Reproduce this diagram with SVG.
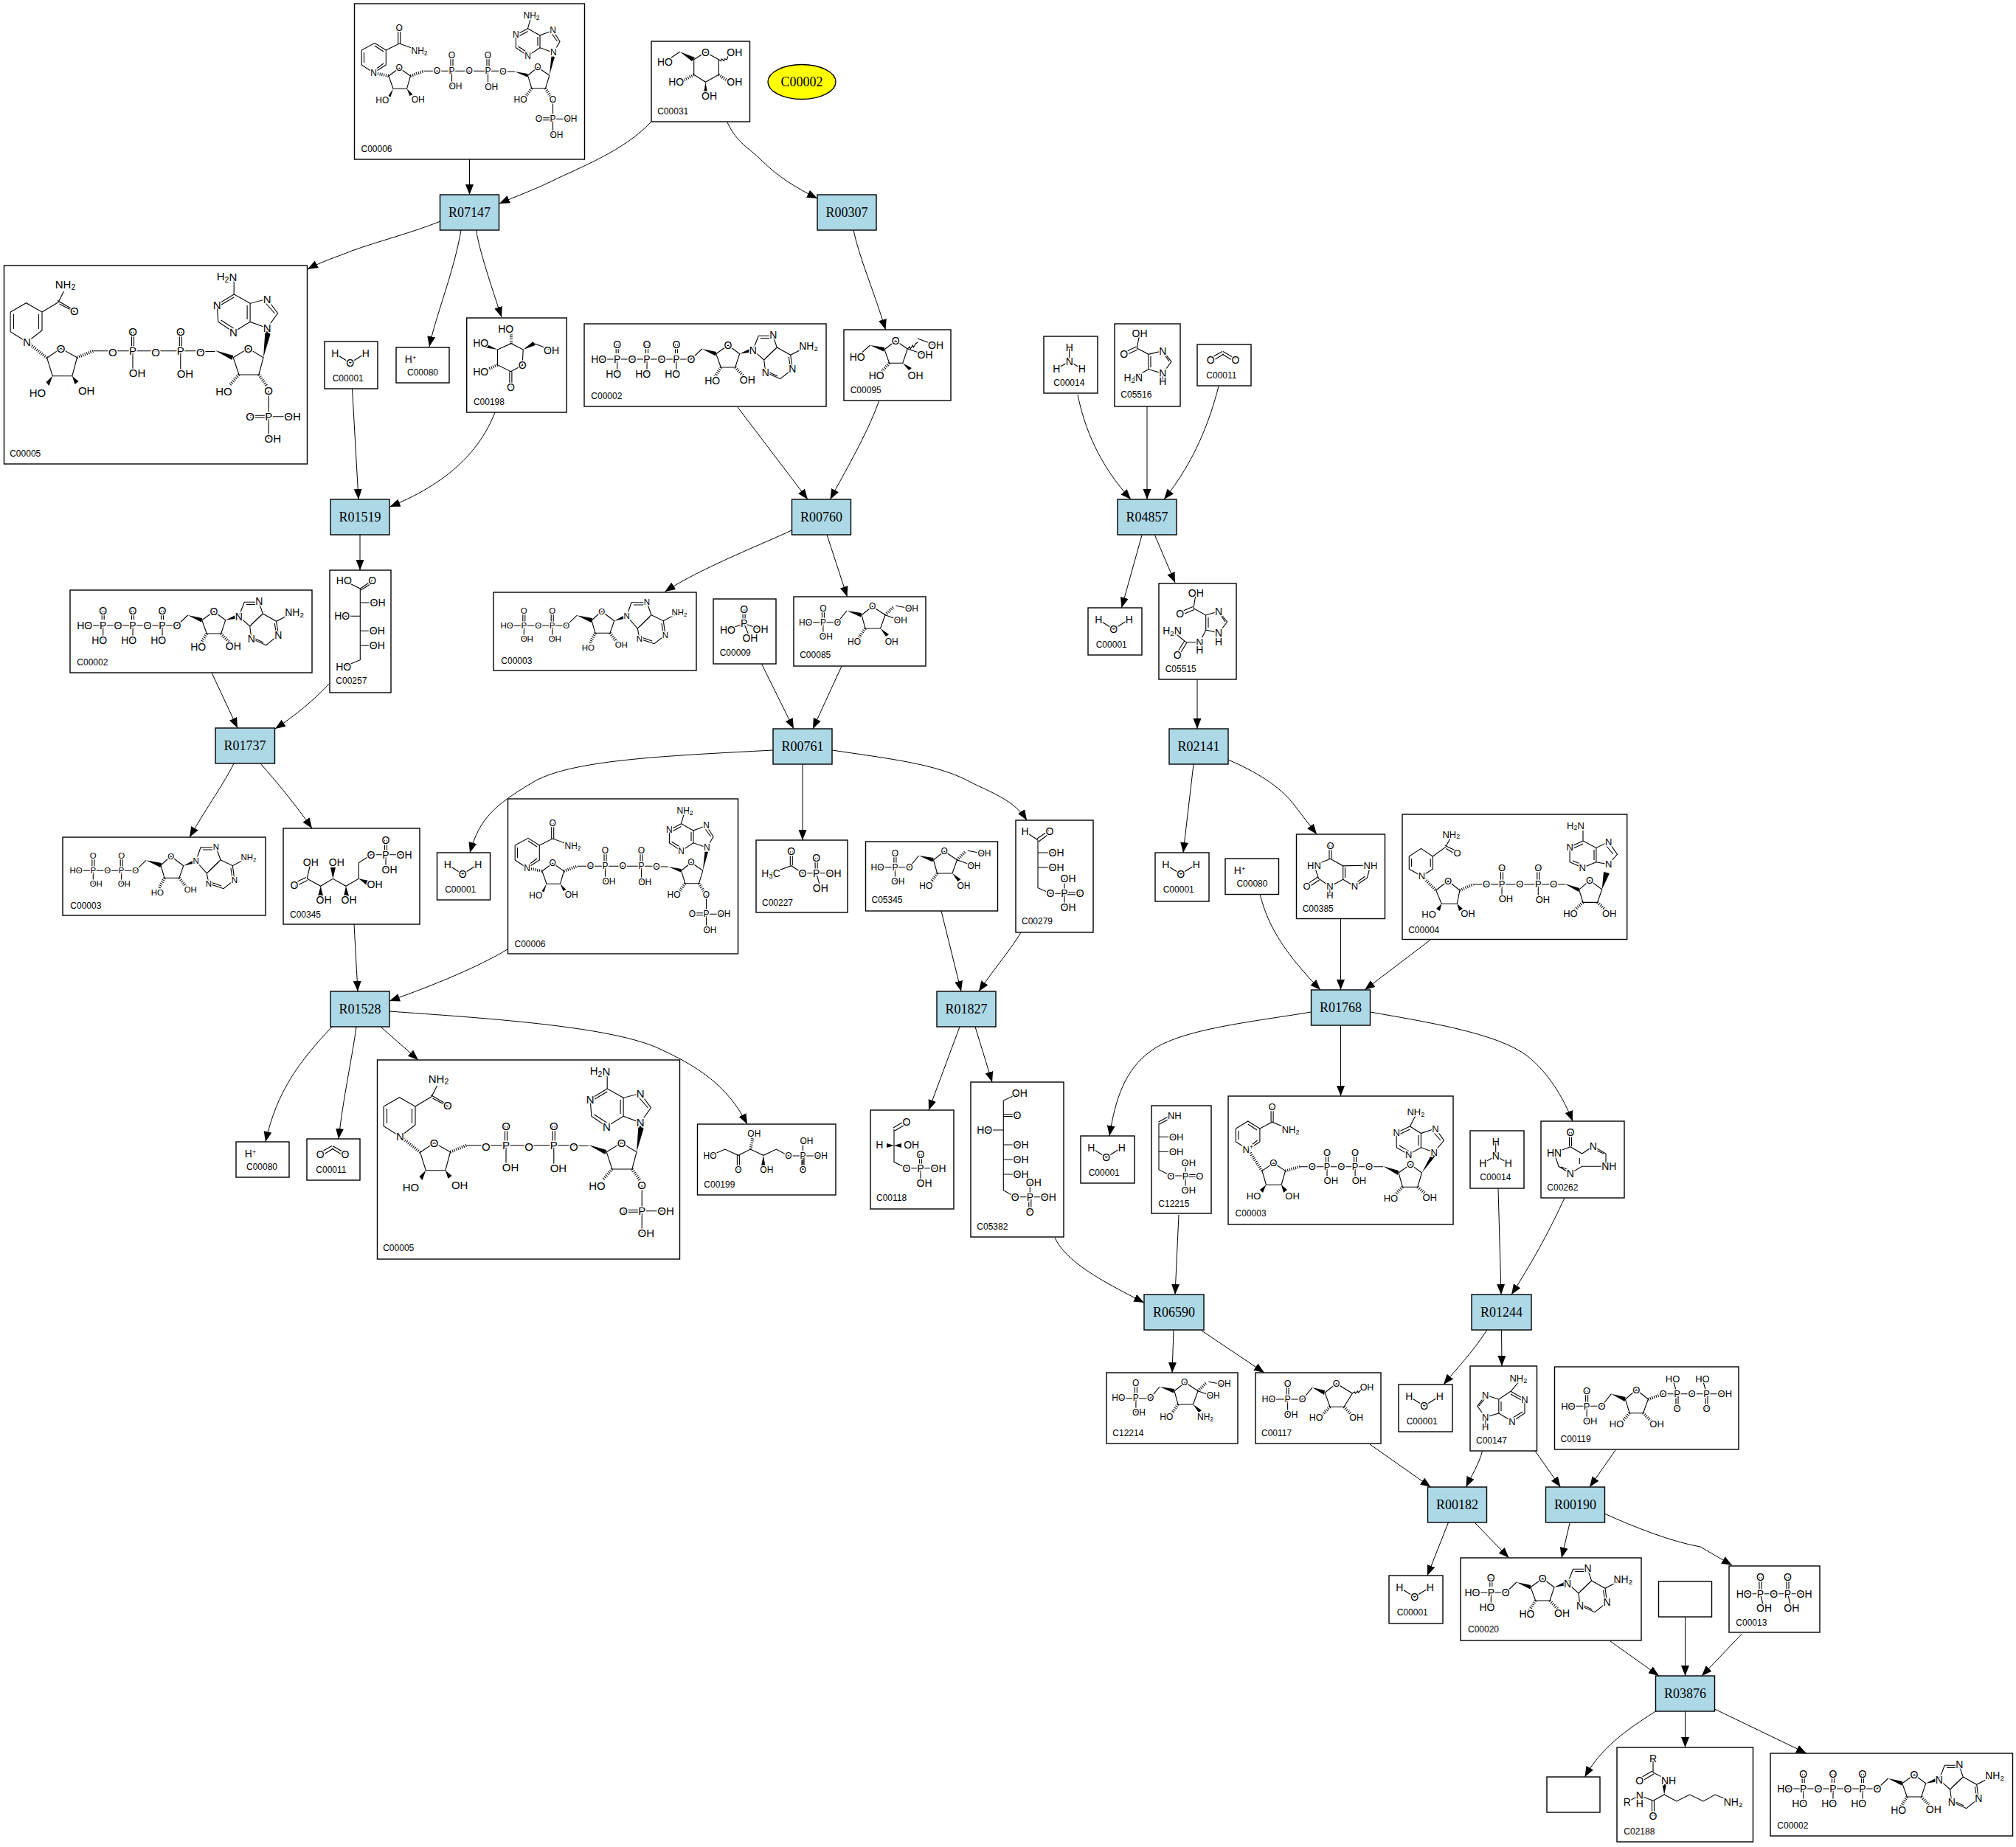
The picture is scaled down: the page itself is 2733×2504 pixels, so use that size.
<svg xmlns="http://www.w3.org/2000/svg" width="2733" height="2504" viewBox="0 0 2733 2504">
<style>
rect.c{fill:#fff;stroke:#000;stroke-width:1.4}
rect.r{fill:#add8e6;stroke:#000;stroke-width:1.4}
ellipse.y{fill:#ff0;stroke:#000;stroke-width:1.4}
.rt{font-family:"Liberation Serif","Times New Roman",serif;font-size:18px;text-anchor:middle;dominant-baseline:central;fill:#000}
.e path{fill:none;stroke:#000;stroke-width:1;marker-end:url(#arr)}
.b{fill:none;stroke:#000;stroke-width:1.1}
.w{fill:#000}
.h{fill:none;stroke:#000;stroke-width:4;stroke-dasharray:1 1.8}
.m text{font-family:"Liberation Sans",Arial,sans-serif;text-anchor:middle;dominant-baseline:central;paint-order:stroke;stroke:#fff;stroke-width:3px;fill:#000}
.m text.l{text-anchor:start;stroke:none;font-size:12px}
.s{font-size:70%}
</style>
<defs>
<marker id="arr" markerUnits="userSpaceOnUse" markerWidth="15" markerHeight="12" refX="14" refY="5.5" orient="auto"><path d="M0,0L14,5.5L0,11Z" fill="#000"/></marker>
<g id="b-atp"><path class="b" d="M19.7,48H145L159.7,34M43.2,28V40M46.2,28V40M83.5,28V40M86.5,28V40M123.5,28V40M126.5,28V40M44.7,48V67M85,48V67M125,48V67M178.7,40.7L195,29L210.7,40.7L204.7,59H185.3ZM228.7,35.7L236.3,16.3H256L261.3,32L243.7,49L228.7,35.7M239,19.5H252M259,34L246,46.5M261.3,32L279.7,42.3L304,29.7M279.7,42.3L282.3,61.3L265.7,74.7L245.7,65.7L243.7,49M277.3,45L279.3,58M262,71L249,65"/><polygon class="w" points="159.7,34 179,38 178,43.5"/><polygon class="w" points="210.7,40.7 228,32 229,38"/><path class="h" d="M185.3,59L175,75M204.7,59L218,73"/></g>
<g id="b-adp"><path class="b" d="M18,45.3H98.7L113,31.3M39.8,25.3V45M42.8,25.3V45M78.2,25.3V45M81.2,25.3V45M41.3,45.3V63M79.7,45.3V63M133,38L146.7,25.7L163.7,38.7L158,55.3H138ZM180.7,32.3L187,13.7H208L214,30.7L195.3,49L180.7,32.3M190,17H205M212,33L198,46.5M214,30.7L230.3,38.7L252,27.3M230.3,38.7L233,58L218,69.7L198,63L195.3,49M228,42L230,56M215,66L202,61.5"/><polygon class="w" points="113,31.3 134,35 132.5,41"/><polygon class="w" points="163.7,38.7 180.5,29.5 181.5,35"/><path class="h" d="M138,55.3L130,70M158,55.3L168,68"/></g>
<g id="b-nadp"><path class="b" d="M26,93.7L9.7,83V63L27.5,53.3L42.8,63V83L26,93.7M13,80V66M27.5,57L39.5,65M30,88L39.5,81M42.8,63L60.7,54L88,63.7M59.2,33V54M62.2,33V54M46.4,98L60.7,87.3L76,98L71,115.3H52.5ZM93.9,91.3H201.5M130.5,70.3V90M133.5,70.3V90M132,91.3V112M179.5,70.3V90M182.5,70.3V90M181,91.3V112M201.5,92H217.3M235,97.3L248.5,86.3L264.3,97.3L259,114.7H240.3ZM269,130.3V178M250,154.8H269M250,157.8H269M269,156.3H293M269.9,66.3L278.5,51.3L269,36.3L251.5,43V59.7L269.9,66.3M267,40L275,51M251.5,43L235,33.7L240,15.7M235,33.7L218.9,42.3V59.7L235,70.7L251.5,59.7M248.5,45V57M235,37.5L222,44.5M222,58L235,66.5"/><polygon class="w" points="52.5,115.3 46,125 49,126.5"/><polygon class="w" points="71,115.3 75,125 79,123"/><polygon class="w" points="217.3,92 235,95 234.5,99.5"/><polygon class="w" points="264.3,97.3 267,71 271.5,72"/><path class="h" d="M26,93.7L46.4,98M76,98L94,91.3M240.3,114.7L232,126M259,114.7L266,126"/></g>
<g id="b-nadph"><path class="b" d="M31,103.7L8.6,89.7V63L30,50.7L51.5,63V88L31,103.7M13,86V66M47,86V66M51.5,63L73.5,49.7M72.5,47.5L94,60M75,52L96,63M73.5,49.7L81,35M121,115.7H266.3M173,89.7V113M176,89.7V113M174.5,115.7V143M237.8,89.7V113M240.8,89.7V113M239.3,115.7V143M58.2,125.3L77,112.3L99,124.7L92.3,149.7H65.8ZM310.7,124.7L331,112.3L351.5,124.7L345.4,148H318.4ZM358.7,170V235M333.7,203.2H358.7M333.7,206.2H358.7M358.7,204.7H391M356.6,84.7L371,64.7L356.6,45.3L333.6,51.3V76.3L356.6,84.7M353,49L367,65M333.6,51.3L311.7,39V19M311.7,39L288.7,53L290.3,76.3L311,90.3L333.6,76.3M329.6,54V73M311.7,43L293,54M294,74L311,85M266.3,116.5H286"/><polygon class="w" points="65.8,149.7 57,158 61,163"/><polygon class="w" points="92.3,149.7 96,161 101,157"/><polygon class="w" points="286,115 310.7,122 309,128"/><polygon class="w" points="351.5,124.7 354,89 362,90"/><path class="h" d="M31,103.7L58.2,125.3M99,124.7L121,115.7M318.4,148L306,162M345.4,148L356,163"/></g>
<g id="b-h2o"><path class="b" d="M14.3,16.3L34.7,29L55.7,15.7"/></g>
<g id="b-nh3"><path class="b" d="M34.7,14.7V34.3L17.3,43.7M34.7,34.3L51.7,43.7"/></g>
<g id="b-co2"><path class="b" d="M17,19L34,9.5M19.5,23L36,13M35,9.5L52,19.5M34,13L50,23"/></g>
<g id="b-f6p"><path class="b" d="M16,34.7H59.4L72,19M38.4,15.7V34M41.4,15.7V34M39.9,34.7V54M92,24.7L106.7,13.3L124,24.7L117.5,43H97ZM124,24.7L144.8,32.3M138.3,12.3L160,16.3"/><polygon class="w" points="72,19 92,22 91,27.5"/><polygon class="w" points="117.5,43 125,54 129,51"/><path class="h" d="M97,43L88,56M124,24.7L136,13"/></g>
</defs>
<rect width="2733" height="2504" fill="#fff"/>
<g id="C00006-1" class="m" transform="translate(480.5,5)" font-size="12"><rect class="c" width="312" height="211"/><use href="#b-nadp"/><text x="60.7" y="33">O</text><text x="88" y="63.7">NH<tspan class="s" dy="3">2</tspan></text><text x="26" y="93.7">N</text><text x="60.7" y="87.3">O</text><text x="37.8" y="131.3">HO</text><text x="86.2" y="130.3">OH</text><text x="112" y="91.3">O</text><text x="132" y="91.3">P</text><text x="132" y="70.3">O</text><text x="137" y="112">OH</text><text x="155.6" y="91.3">O</text><text x="181" y="91.3">P</text><text x="181" y="70.3">O</text><text x="185.7" y="113">OH</text><text x="201.5" y="92">O</text><text x="248.5" y="86.3">O</text><text x="225" y="130.3">HO</text><text x="269" y="130.3">O</text><text x="269" y="156.3">P</text><text x="250" y="156.3">O</text><text x="293" y="156.3">OH</text><text x="274" y="178">OH</text><text x="269.9" y="66.3">N</text><text x="269" y="36.3">N</text><text x="240" y="15.7">NH<tspan class="s" dy="3">2</tspan></text><text x="218.9" y="42.3">N</text><text x="235" y="70.7">N</text><text class="l" x="9" y="196.7">C00006</text></g>
<g id="C00031" class="m" transform="translate(883,56)" font-size="14"><rect class="c" width="133.5" height="109"/><path class="b" d="M18.4,27.7L38.8,14.3M57.7,24.7L73.5,14.7L91.3,24.7V45.3L73.5,55.3L57.7,45.3ZM91.3,24.7l3,2 1,-3 3,3 1,-3 3,1 3,-8"/><polygon class="w" points="38.8,14.3 55,27 59,22"/><polygon class="w" points="73.5,55.3 71,70 76,70"/><path class="h" d="M57.7,45.3L42,54M91.3,45.3L104,54"/><text x="18.4" y="27.7">HO</text><text x="73.5" y="14.7">O</text><text x="112.8" y="14.7">OH</text><text x="112.8" y="54.7">OH</text><text x="78.6" y="74.3">OH</text><text x="33.7" y="54.7">HO</text><text class="l" x="8.2" y="94.7">C00031</text></g>
<g id="C00002-y"><ellipse class="y" cx="1087" cy="111" rx="46" ry="23.5"/><text class="rt" x="1087" y="111">C00002</text></g>
<g id="R07147"><rect class="r" x="596.5" y="264" width="80" height="48"/><text class="rt" x="636.5" y="288">R07147</text></g>
<g id="R00307"><rect class="r" x="1108" y="264" width="80" height="48"/><text class="rt" x="1148" y="288">R00307</text></g>
<g id="C00005-1" class="m" transform="translate(5.5,360)" font-size="15"><rect class="c" width="411" height="269"/><use href="#b-nadph"/><text x="31" y="103.7">N</text><text x="95.4" y="61.3">O</text><text x="83" y="25">NH<tspan class="s" dy="4">2</tspan></text><text x="77" y="112.3">O</text><text x="45.4" y="172">HO</text><text x="111.7" y="169.7">OH</text><text x="147.4" y="117.3">O</text><text x="174.5" y="115.7">P</text><text x="174.5" y="89.7">O</text><text x="180.6" y="145.7">OH</text><text x="205.6" y="117.3">O</text><text x="239.3" y="115.7">P</text><text x="239.3" y="89.7">O</text><text x="245.4" y="146.3">OH</text><text x="266.3" y="117.3">O</text><text x="331" y="112.3">O</text><text x="298" y="170.7">HO</text><text x="358.7" y="169.7">O</text><text x="358.7" y="204.7">P</text><text x="333.7" y="204.7">O</text><text x="391" y="204.7">OH</text><text x="364.3" y="234.7">OH</text><text x="356.6" y="84.7">N</text><text x="356.6" y="45.3">N</text><text x="302" y="14.7">H<tspan class="s" dy="4">2</tspan><tspan dy="-4">N</tspan></text><text x="288.7" y="53">N</text><text x="311" y="90.3">N</text><text class="l" x="7.7" y="254.7">C00005</text></g>
<g id="C00001-1" class="m" transform="translate(440,463)" font-size="14"><rect class="c" width="72" height="64"/><use href="#b-h2o"/><text x="14.3" y="16.3">H</text><text x="34.7" y="29">O</text><text x="55.7" y="15.7">H</text><text class="l" x="10.7" y="49.7">C00001</text></g>
<g id="C00080-1" class="m" transform="translate(537,471)" font-size="14"><rect class="c" width="72" height="48"/><text x="19.6" y="15.7">H<tspan class="s" dy="-3">+</tspan></text><text class="l" x="15" y="33.7">C00080</text></g>
<g id="C00198" class="m" transform="translate(632.7,431)" font-size="14"><rect class="c" width="135.5" height="128"/><path class="b" d="M41.8,43L60.2,34.7L76.5,43L75.5,64.3L59.7,72.7L41.8,63.7ZM58.2,72.7V93M61.2,72.7V93M91.8,34.7L114.8,43.7"/><polygon class="w" points="41.8,43 26,35 24,40"/><polygon class="w" points="76.5,43 90,32 93,37"/><path class="h" d="M60.2,34.7V20M41.8,63.7L28,70"/><text x="53" y="15.3">HO</text><text x="19" y="34.3">HO</text><text x="19" y="72.7">HO</text><text x="75.5" y="64.3">O</text><text x="59.7" y="93.7">O</text><text x="114.8" y="43.7">OH</text><text class="l" x="9.2" y="113.7">C00198</text></g>
<g id="C00002-1" class="m" transform="translate(792,439)" font-size="14"><rect class="c" width="328" height="112"/><use href="#b-atp"/><text x="19.7" y="48">HO</text><text x="44.7" y="48">P</text><text x="44.7" y="28">O</text><text x="39.7" y="67.7">HO</text><text x="65" y="48">O</text><text x="85" y="48">P</text><text x="85" y="28">O</text><text x="79.7" y="67.7">HO</text><text x="105" y="48">O</text><text x="125" y="48">P</text><text x="125" y="28">O</text><text x="119.7" y="67.7">HO</text><text x="145" y="48">O</text><text x="195" y="29">O</text><text x="173.7" y="77.3">HO</text><text x="221.3" y="75.7">OH</text><text x="228.7" y="35.7">N</text><text x="256.3" y="15.3">N</text><text x="304" y="29.7">NH<tspan class="s" dy="3">2</tspan></text><text x="282.3" y="61.3">N</text><text x="245.7" y="65.7">N</text><text class="l" x="9.3" y="97.7">C00002</text></g>
<g id="C00095" class="m" transform="translate(1144,447)" font-size="14"><rect class="c" width="145" height="96"/><path class="b" d="M18.2,36.7L35.6,21M55,26.7L70.3,15L86.3,26L79.8,45.3H61.6ZM86.3,26L110,33.7M86.3,26l3,-3 1,3 3,-5 1,3 3,-5 3,-2M100,12L124.5,21"/><polygon class="w" points="35.6,21 55,24 54,29.5"/><polygon class="w" points="79.8,45.3 88,55 92,52"/><path class="h" d="M61.6,45.3L50,58"/><text x="18.2" y="36.7">HO</text><text x="70.3" y="15">O</text><text x="44.2" y="61.7">HO</text><text x="97.1" y="61.7">OH</text><text x="110" y="33.7">OH</text><text x="124.5" y="21">OH</text><text class="l" x="8.7" y="82">C00095</text></g>
<g id="C00014-1" class="m" transform="translate(1415,456)" font-size="14"><rect class="c" width="73" height="77"/><use href="#b-nh3"/><text x="34.7" y="14.7">H</text><text x="34.7" y="34.3">N</text><text x="17.3" y="43.7">H</text><text x="51.7" y="43.7">H</text><text class="l" x="13.3" y="62.7">C00014</text></g>
<g id="C05516" class="m" transform="translate(1511,439)" font-size="14"><rect class="c" width="89" height="112"/><path class="b" d="M34,13L30.3,33L46,41.3L65.3,36.7L77,51.3L65.3,67.3L46,61.7V41.3M29.5,31L12.7,39M31,35L14,43M49,44V59M46,61.7L25.3,73M67,41L74,51M65.3,67.3V78"/><text x="34" y="13">OH</text><text x="12.7" y="41">O</text><text x="65.3" y="36.7">N</text><text x="65.3" y="67.3">N</text><text x="65.3" y="78">H</text><text x="25.3" y="73">H<tspan class="s" dy="3">2</tspan><tspan dy="-3">N</tspan></text><text class="l" x="8.3" y="95.7">C05516</text></g>
<g id="C00011-1" class="m" transform="translate(1623,467)" font-size="14"><rect class="c" width="73" height="56"/><use href="#b-co2"/><text x="18.3" y="21.3">O</text><text x="52" y="21.3">O</text><text class="l" x="12.3" y="41.7">C00011</text></g>
<g id="R01519"><rect class="r" x="448" y="677" width="80" height="48"/><text class="rt" x="488" y="701">R01519</text></g>
<g id="R00760"><rect class="r" x="1073.5" y="677" width="80" height="48"/><text class="rt" x="1113.5" y="701">R00760</text></g>
<g id="R04857"><rect class="r" x="1515" y="677" width="80" height="48"/><text class="rt" x="1555" y="701">R04857</text></g>
<g id="C00257" class="m" transform="translate(447,773)" font-size="14"><rect class="c" width="83" height="166"/><path class="b" d="M19.3,14L41.3,25L57.7,14M42.3,27L58,17M41.3,25V121.7L18.7,131M41.3,44H65M16.7,62.3H41.3M41.3,82.3H64.3M41.3,102.3H64.3"/><text x="19.3" y="14">HO</text><text x="57.7" y="14">O</text><text x="65" y="44">OH</text><text x="16.7" y="62.3">HO</text><text x="64.3" y="82.3">OH</text><text x="64.3" y="102.3">OH</text><text x="18.7" y="131">HO</text><text class="l" x="8.3" y="149.7">C00257</text></g>
<g id="C00002-2" class="m" transform="translate(95,800)" font-size="14"><rect class="c" width="328" height="112"/><use href="#b-atp"/><text x="19.7" y="48">HO</text><text x="44.7" y="48">P</text><text x="44.7" y="28">O</text><text x="39.7" y="67.7">HO</text><text x="65" y="48">O</text><text x="85" y="48">P</text><text x="85" y="28">O</text><text x="79.7" y="67.7">HO</text><text x="105" y="48">O</text><text x="125" y="48">P</text><text x="125" y="28">O</text><text x="119.7" y="67.7">HO</text><text x="145" y="48">O</text><text x="195" y="29">O</text><text x="173.7" y="77.3">HO</text><text x="221.3" y="75.7">OH</text><text x="228.7" y="35.7">N</text><text x="256.3" y="15.3">N</text><text x="304" y="29.7">NH<tspan class="s" dy="3">2</tspan></text><text x="282.3" y="61.3">N</text><text x="245.7" y="65.7">N</text><text class="l" x="9.3" y="97.7">C00002</text></g>
<g id="C00003-1" class="m" transform="translate(669,803)" font-size="11.5"><rect class="c" width="275" height="106"/><use href="#b-adp"/><text x="18" y="45.3">HO</text><text x="41.3" y="45.3">P</text><text x="41.3" y="25.3">O</text><text x="45.3" y="63">OH</text><text x="60.7" y="45.3">O</text><text x="79.7" y="45.3">P</text><text x="79.7" y="25.3">O</text><text x="83.3" y="63">OH</text><text x="98.7" y="45.3">O</text><text x="146.7" y="25.7">O</text><text x="128.3" y="74.7">HO</text><text x="173.3" y="71.3">OH</text><text x="180.7" y="32.3">N</text><text x="208" y="13">N</text><text x="252" y="27.3">NH<tspan class="s" dy="3">2</tspan></text><text x="233" y="58">N</text><text x="198" y="63">N</text><text class="l" x="10.3" y="92.7">C00003</text></g>
<g id="C00009" class="m" transform="translate(967,812)" font-size="14"><rect class="c" width="85" height="88"/><path class="b" d="M40.1,14.3V33M43.1,14.3V33M41.6,33.3L19.5,41.7M41.6,33.3L64,41M41.6,33.3L49.9,53.3"/><text x="41.6" y="14.3">O</text><text x="41.6" y="33.3">P</text><text x="19.5" y="41.7">HO</text><text x="64" y="41">OH</text><text x="49.9" y="53.3">OH</text><text class="l" x="8.7" y="73.3">C00009</text></g>
<g id="C00085" class="m" transform="translate(1076,809)" font-size="12"><rect class="c" width="179" height="94"/><use href="#b-f6p"/><text x="16" y="34.7">HO</text><text x="39.9" y="34.7">P</text><text x="39.9" y="15.7">O</text><text x="43.8" y="54">OH</text><text x="59.4" y="34.7">O</text><text x="106.7" y="13.3">O</text><text x="82" y="60.7">HO</text><text x="132.7" y="60.7">OH</text><text x="144.8" y="32.3">OH</text><text x="160" y="16.3">OH</text><text class="l" x="8.2" y="78.7">C00085</text></g>
<g id="C00001-2" class="m" transform="translate(1475,824)" font-size="14"><rect class="c" width="73" height="64"/><use href="#b-h2o"/><text x="14.3" y="16.3">H</text><text x="34.7" y="29">O</text><text x="55.7" y="15.7">H</text><text class="l" x="10.7" y="49.7">C00001</text></g>
<g id="C05515" class="m" transform="translate(1571,791)" font-size="14"><rect class="c" width="105" height="130"/><path class="b" d="M50.3,13L47,33.7L63.7,43L81,38L92.7,52L81,67L63.7,63V43M46,31.5L28.7,39M48,35.5L30,43M67,46V60M63.7,63L55.3,80.3L36.3,79.3L18,64.3M35,77.5L24,95M38,80L27,98M83,42L90,52"/><text x="50.3" y="13">OH</text><text x="28.7" y="41.3">O</text><text x="81" y="38">N</text><text x="81" y="67">N</text><text x="81" y="78.7">H</text><text x="55.3" y="80.3">N</text><text x="55.3" y="90.3">H</text><text x="25.3" y="97">O</text><text x="18" y="64.3">H<tspan class="s" dy="3">2</tspan><tspan dy="-3">N</tspan></text><text class="l" x="8.7" y="115.7">C05515</text></g>
<g id="R01737"><rect class="r" x="292" y="987" width="80.5" height="48"/><text class="rt" x="332" y="1011">R01737</text></g>
<g id="R00761"><rect class="r" x="1048" y="988" width="80" height="48"/><text class="rt" x="1088" y="1012">R00761</text></g>
<g id="R02141"><rect class="r" x="1585" y="988" width="80" height="48"/><text class="rt" x="1625" y="1012">R02141</text></g>
<g id="C00003-2" class="m" transform="translate(85,1135)" font-size="11.5"><rect class="c" width="275" height="106"/><use href="#b-adp"/><text x="18" y="45.3">HO</text><text x="41.3" y="45.3">P</text><text x="41.3" y="25.3">O</text><text x="45.3" y="63">OH</text><text x="60.7" y="45.3">O</text><text x="79.7" y="45.3">P</text><text x="79.7" y="25.3">O</text><text x="83.3" y="63">OH</text><text x="98.7" y="45.3">O</text><text x="146.7" y="25.7">O</text><text x="128.3" y="74.7">HO</text><text x="173.3" y="71.3">OH</text><text x="180.7" y="32.3">N</text><text x="208" y="13">N</text><text x="252" y="27.3">NH<tspan class="s" dy="3">2</tspan></text><text x="233" y="58">N</text><text x="198" y="63">N</text><text class="l" x="10.3" y="92.7">C00003</text></g>
<g id="C00345" class="m" transform="translate(384,1123)" font-size="14"><rect class="c" width="185" height="130"/><path class="b" d="M14,74.5L31,66.5M16,78.5L33,70.5M32.3,68.3L37.3,45.7M32.3,68.3L50.7,78.3L67.3,68.3L85,78.3L102.3,68.3V46.7L119,35.7H164M137.5,15.7V35M140.5,15.7V35M139,35.7V55"/><polygon class="w" points="50.7,78.3 47,92 54,92"/><polygon class="w" points="67.3,68.3 64,53 71,53"/><polygon class="w" points="85,78.3 82,92 89,92"/><polygon class="w" points="102.3,68.3 116,71 113,77"/><text x="15" y="76.7">O</text><text x="37.3" y="45.7">OH</text><text x="55" y="96.7">OH</text><text x="72.3" y="45.7">OH</text><text x="89" y="96.7">OH</text><text x="124" y="75.7">OH</text><text x="119" y="35.7">O</text><text x="139" y="35.7">P</text><text x="139" y="15.7">O</text><text x="164" y="35.7">OH</text><text x="144" y="55.7">OH</text><text class="l" x="9" y="116.7">C00345</text></g>
<g id="C00001-3" class="m" transform="translate(592.5,1156)" font-size="14"><rect class="c" width="72" height="64"/><use href="#b-h2o"/><text x="14.3" y="16.3">H</text><text x="34.7" y="29">O</text><text x="55.7" y="15.7">H</text><text class="l" x="10.7" y="49.7">C00001</text></g>
<g id="C00006-2" class="m" transform="translate(688.5,1083)" font-size="12"><rect class="c" width="312" height="210"/><use href="#b-nadp"/><text x="60.7" y="33">O</text><text x="88" y="63.7">NH<tspan class="s" dy="3">2</tspan></text><text x="26" y="93.7">N</text><text x="60.7" y="87.3">O</text><text x="37.8" y="131.3">HO</text><text x="86.2" y="130.3">OH</text><text x="112" y="91.3">O</text><text x="132" y="91.3">P</text><text x="132" y="70.3">O</text><text x="137" y="112">OH</text><text x="155.6" y="91.3">O</text><text x="181" y="91.3">P</text><text x="181" y="70.3">O</text><text x="185.7" y="113">OH</text><text x="201.5" y="92">O</text><text x="248.5" y="86.3">O</text><text x="225" y="130.3">HO</text><text x="269" y="130.3">O</text><text x="269" y="156.3">P</text><text x="250" y="156.3">O</text><text x="293" y="156.3">OH</text><text x="274" y="178">OH</text><text x="269.9" y="66.3">N</text><text x="269" y="36.3">N</text><text x="240" y="15.7">NH<tspan class="s" dy="3">2</tspan></text><text x="218.9" y="42.3">N</text><text x="235" y="70.7">N</text><text class="l" x="9" y="196.7">C00006</text></g>
<g id="C00227" class="m" transform="translate(1025,1139)" font-size="14"><rect class="c" width="124" height="98"/><path class="b" d="M20,44.7L47.8,34.7L63,44.7H105M46.3,14.7V34M49.3,14.7V34M80.1,24V44M83.1,24V44M81.6,44.7L87.3,64.7"/><text x="20" y="44.7">H<tspan class="s" dy="3">3</tspan><tspan dy="-3">C</tspan></text><text x="47.8" y="14.7">O</text><text x="63" y="44.7">O</text><text x="81.6" y="44.7">P</text><text x="81.6" y="24">O</text><text x="105" y="44.7">OH</text><text x="87.3" y="64.7">OH</text><text class="l" x="8" y="84.7">C00227</text></g>
<g id="C05345" class="m" transform="translate(1173.5,1141)" font-size="12"><rect class="c" width="179" height="94"/><use href="#b-f6p"/><text x="16" y="34.7">HO</text><text x="39.9" y="34.7">P</text><text x="39.9" y="15.7">O</text><text x="43.8" y="54">OH</text><text x="59.4" y="34.7">O</text><text x="106.7" y="13.3">O</text><text x="81.8" y="60.3">HO</text><text x="133" y="60.3">OH</text><text x="147" y="32.7">OH</text><text x="161" y="16.3">OH</text><text class="l" x="8" y="78.7">C05345</text></g>
<g id="C00279" class="m" transform="translate(1377,1112)" font-size="14"><rect class="c" width="105" height="152"/><path class="b" d="M12.6,15.3L30,27M29,25L45,14M31,29L47,17M30,27V91.7L47,99.3H66M30,44H55M30,64H55M66,79V117.7M64.5,97.8H87.3M64.5,100.8H87.3"/><text x="12.6" y="15.3">H</text><text x="46" y="15.3">O</text><text x="55" y="44">OH</text><text x="55" y="64">OH</text><text x="47" y="99.3">O</text><text x="66" y="99.3">P</text><text x="71" y="79.3">OH</text><text x="87.3" y="99.3">O</text><text x="71" y="117.7">OH</text><text class="l" x="8" y="137.3">C00279</text></g>
<g id="C00001-4" class="m" transform="translate(1566,1156)" font-size="14"><rect class="c" width="73" height="66"/><use href="#b-h2o"/><text x="14.3" y="16.3">H</text><text x="34.7" y="29">O</text><text x="55.7" y="15.7">H</text><text class="l" x="10.7" y="49.7">C00001</text></g>
<g id="C00080-2" class="m" transform="translate(1661,1164)" font-size="14"><rect class="c" width="72.5" height="48.5"/><text x="19.6" y="15.7">H<tspan class="s" dy="-3">+</tspan></text><text class="l" x="15.4" y="33.7">C00080</text></g>
<g id="C00385" class="m" transform="translate(1757.5,1131)" font-size="13"><rect class="c" width="120" height="114.5"/><path class="b" d="M44.5,15.3V33M47.5,15.3V33M46,33.3L24,42L30,60L45.4,70.8L63.2,61.2V42.9L46,33.3M29,58L14,68M31,62L16,72M66,59V45M63.2,42.9L100.4,42L96,59L79,70.8L63.2,61.2M93,57L81,66M45.4,70.8V82"/><text x="46" y="15.3">O</text><text x="24" y="42">HN</text><text x="14" y="70.4">O</text><text x="45.4" y="70.8">N</text><text x="45.4" y="82.3">H</text><text x="100.4" y="42">NH</text><text x="79" y="70.8">N</text><text class="l" x="8.2" y="100.6">C00385</text></g>
<g id="C00004" class="m" transform="translate(1901,1104)" font-size="13"><rect class="c" width="304.7" height="169.5"/><path class="b" d="M26.4,83.8L9.3,74.2V57L25.4,46.3L41.4,57V74.2L26.4,83.8M12.5,71V60M38.2,71V60M41.4,57L58.6,44.4L66.4,30M57.8,42.2L74,50M59.4,46.6L73,54.5M45.7,103L62,90.3L77.9,103L74.3,121.3H53.2ZM95.7,95H205M133.5,72.3V93M136.5,72.3V93M135,95V112M182.8,72.3V93M185.8,72.3V93M184.3,95V112M205,95H220.7M239.7,102.2L254,89.6L270.7,101.8L264.6,119.4H245ZM279.6,67.7L291.4,54.3L279.6,37.1L262.9,45.5V64.7L279.6,67.7M276,42L286,54M262.9,45.5L245,36V22M245,36L227.1,44.4V64.7L244.3,72.3L262.9,64.7M260,48V62M245,40L231,46.5M231,63L244,68"/><polygon class="w" points="53.2,121.3 46,128 51,131"/><polygon class="w" points="74.3,121.3 77,131 82,128"/><polygon class="w" points="220,94 240,100 239,105"/><polygon class="w" points="270.7,101.8 273,78 281,80"/><path class="h" d="M26.4,83.8L45.7,103M77.9,103L96,95M245,119.4L233,130M264.6,119.4L276,130"/><text x="26.4" y="83.8">N</text><text x="74.6" y="52">O</text><text x="66.4" y="27.2">NH<tspan class="s" dy="3">2</tspan></text><text x="62" y="90.3">O</text><text x="36" y="135.5">HO</text><text x="89" y="134.7">OH</text><text x="114" y="94.9">O</text><text x="135" y="94.9">P</text><text x="135" y="72.3">O</text><text x="140.4" y="114.8">OH</text><text x="159.3" y="94.9">O</text><text x="184.3" y="94.9">P</text><text x="184.3" y="72.3">O</text><text x="190.4" y="115.6">OH</text><text x="205" y="94.9">O</text><text x="254" y="89.6">O</text><text x="227.9" y="134.3">HO</text><text x="280.7" y="134.3">OH</text><text x="279.6" y="67.7">N</text><text x="279.6" y="37.1">N</text><text x="235" y="15">H<tspan class="s" dy="3">2</tspan><tspan dy="-3">N</tspan></text><text x="227.1" y="44.4">N</text><text x="244.3" y="72.3">N</text><text class="l" x="8.2" y="156.5">C00004</text></g>
<g id="R01528"><rect class="r" x="448" y="1344" width="80" height="48"/><text class="rt" x="488" y="1368">R01528</text></g>
<g id="R01827"><rect class="r" x="1270" y="1344" width="80" height="48"/><text class="rt" x="1310" y="1368">R01827</text></g>
<g id="R01768"><rect class="r" x="1777.5" y="1342" width="80" height="48"/><text class="rt" x="1817.5" y="1366">R01768</text></g>
<g id="C00005-2" class="m" transform="translate(511.5,1437)" font-size="15"><rect class="c" width="410" height="270"/><use href="#b-nadph"/><text x="31" y="103.7">N</text><text x="95.4" y="61.3">O</text><text x="83" y="25">NH<tspan class="s" dy="4">2</tspan></text><text x="77" y="112.3">O</text><text x="45.4" y="172">HO</text><text x="111.7" y="169.7">OH</text><text x="147.4" y="117.3">O</text><text x="174.5" y="115.7">P</text><text x="174.5" y="89.7">O</text><text x="180.6" y="145.7">OH</text><text x="205.6" y="117.3">O</text><text x="239.3" y="115.7">P</text><text x="239.3" y="89.7">O</text><text x="245.4" y="146.3">OH</text><text x="266.3" y="117.3">O</text><text x="331" y="112.3">O</text><text x="298" y="170.7">HO</text><text x="358.7" y="169.7">O</text><text x="358.7" y="204.7">P</text><text x="333.7" y="204.7">O</text><text x="391" y="204.7">OH</text><text x="364.3" y="234.7">OH</text><text x="356.6" y="84.7">N</text><text x="356.6" y="45.3">N</text><text x="302" y="14.7">H<tspan class="s" dy="4">2</tspan><tspan dy="-4">N</tspan></text><text x="288.7" y="53">N</text><text x="311" y="90.3">N</text><text class="l" x="7.7" y="254.7">C00005</text></g>
<g id="C00080-3" class="m" transform="translate(320,1548)" font-size="14"><rect class="c" width="72" height="48"/><text x="19.6" y="15.7">H<tspan class="s" dy="-3">+</tspan></text><text class="l" x="14" y="33.7">C00080</text></g>
<g id="C00011-2" class="m" transform="translate(416,1544)" font-size="14"><rect class="c" width="72" height="56"/><use href="#b-co2"/><text x="18.3" y="21.3">O</text><text x="52" y="21.3">O</text><text class="l" x="12.3" y="41.7">C00011</text></g>
<g id="C00199" class="m" transform="translate(945.5,1524)" font-size="12"><rect class="c" width="187.5" height="96"/><path class="b" d="M17,43L37.3,34L55.4,42.3L71.9,34L89.4,42.3L107,34L123.4,43H167.3M53.9,42.3V62M56.9,42.3V62M143,23V62M141.5,43V62.3M144.5,43V62.3"/><polygon class="w" points="89.4,42.3 86.5,57 92,57"/><path class="h" d="M71.9,34L75,18"/><text x="17" y="43">HO</text><text x="55.4" y="62.3">O</text><text x="76.8" y="13">OH</text><text x="93.8" y="62.3">OH</text><text x="123.4" y="43">O</text><text x="143" y="43">P</text><text x="148" y="23">OH</text><text x="167.3" y="43">OH</text><text x="143" y="62.3">O</text><text class="l" x="8.8" y="81.7">C00199</text></g>
<g id="C00118" class="m" transform="translate(1180,1505)" font-size="14"><rect class="c" width="113" height="134"/><path class="b" d="M31,24L48,14M33,28L50,18M32,25.7V70.3L49,78.7H92M66.5,59.7V78M69.5,59.7V78M68,78.7V98"/><polygon class="w" points="32,48 22,45 22,51"/><polygon class="w" points="32,48 42,45 42,51"/><text x="49" y="15.7">O</text><text x="12.3" y="46.7">H</text><text x="55.7" y="46.7">OH</text><text x="49" y="78.7">O</text><text x="68" y="78.7">P</text><text x="68" y="59.7">O</text><text x="92" y="78.7">OH</text><text x="73" y="98.7">OH</text><text class="l" x="8" y="118.7">C00118</text></g>
<g id="C05382" class="m" transform="translate(1316,1467)" font-size="14"><rect class="c" width="126" height="210"/><path class="b" d="M66.3,14.7L44.3,25V146.7L60.3,155.7H105.3M44.3,43.5H63M44.3,46.5H63M18.7,65H44.3M44.3,85H68M44.3,105H68M44.3,125H68M80.3,136V155.7M78.8,155.7V175.7M81.8,155.7V175.7"/><text x="66.3" y="14.7">OH</text><text x="63" y="45">O</text><text x="18.7" y="65">HO</text><text x="68" y="85">OH</text><text x="68" y="105">OH</text><text x="68" y="125">OH</text><text x="60.3" y="155.7">O</text><text x="80.3" y="155.7">P</text><text x="85.3" y="136">OH</text><text x="105.3" y="155.7">OH</text><text x="80.3" y="175.7">O</text><text class="l" x="8.3" y="195.7">C05382</text></g>
<g id="C00001-5" class="m" transform="translate(1465,1540)" font-size="14"><rect class="c" width="73" height="64"/><use href="#b-h2o"/><text x="14.3" y="16.3">H</text><text x="34.7" y="29">O</text><text x="55.7" y="15.7">H</text><text class="l" x="10.7" y="49.7">C00001</text></g>
<g id="C12215" class="m" transform="translate(1561,1499)" font-size="13"><rect class="c" width="81" height="146"/><path class="b" d="M9.5,22L30,11M11,25L31,14M10,23.3V86.7L26.3,95H46M10,42.3H33.7M10,62.3H33.7M46,77V114M46,93.5H65.3M46,96.5H65.3"/><text x="31.3" y="13.3">NH</text><text x="33.7" y="42.3">OH</text><text x="33.7" y="62.3">OH</text><text x="26.3" y="95">O</text><text x="46" y="95">P</text><text x="50.3" y="77.3">OH</text><text x="65.3" y="95">O</text><text x="50.3" y="114">OH</text><text class="l" x="9.3" y="132.7">C12215</text></g>
<g id="C00003-3" class="m" transform="translate(1665,1486)" font-size="13"><rect class="c" width="305" height="174"/><path class="b" d="M26.8,72.3L10.4,62V44L26.8,34L42.9,44V62L26.8,72.3M14,59V47M26.8,38L39,46M30,68L39.5,60M42.9,44L59.6,35.2L84.6,45.5M58.1,15V35M61.1,15V35M46,101.4L61.4,90.7L77.5,101.4L72.1,120.2H51.4ZM97,95.7H191M132.5,76.5V95M135.5,76.5V95M134,95.7V113M170.6,76.5V95M173.6,76.5V95M172.1,95.7V113M191,95.7H210M231,104L247,92.6L262.5,104L256.8,123.2H236.4ZM279.3,76.2L292.5,60L281,44L261.4,50.5V69.7L279.3,76.2M277.5,48L288,60M261.4,50.5L246.4,41L254.3,26M246.4,41L228.2,49.8V69.7L244.6,79.2L261.4,69.7M258,53V67M246.4,45L232,52M232,67L244.6,74.5"/><polygon class="w" points="51.4,120.2 43,127 47,131"/><polygon class="w" points="72.1,120.2 75,131 80,127"/><polygon class="w" points="210,95 231,101 230,107"/><polygon class="w" points="262.5,104 276,78 281,81"/><path class="h" d="M26.8,72.3L46,101.4M77.5,101.4L97,95.7M236.4,123.2L226,134M256.8,123.2L268,133"/><text x="26.8" y="72.3">N<tspan class="s" dy="-3">+</tspan></text><text x="59.6" y="14.9">O</text><text x="84.6" y="45.5">NH<tspan class="s" dy="3">2</tspan></text><text x="61.4" y="90.7">O</text><text x="34.6" y="135.9">HO</text><text x="87.1" y="135.9">OH</text><text x="113.9" y="95.7">O</text><text x="134" y="95.7">P</text><text x="134" y="76.5">O</text><text x="139.3" y="114.8">OH</text><text x="153.2" y="95.7">O</text><text x="172.1" y="95.7">P</text><text x="172.1" y="76.5">O</text><text x="177.5" y="114.8">OH</text><text x="191" y="95.7">O</text><text x="247" y="92.6">O</text><text x="220.4" y="138.5">HO</text><text x="273.2" y="137.4">OH</text><text x="279.3" y="76.2">N</text><text x="281" y="44">N</text><text x="254.3" y="21.8">NH<tspan class="s" dy="3">2</tspan></text><text x="228.2" y="49.8">N</text><text x="244.6" y="79.2">N</text><text class="l" x="9.6" y="158.8">C00003</text></g>
<g id="C00014-2" class="m" transform="translate(1993,1533)" font-size="14"><rect class="c" width="73" height="78"/><use href="#b-nh3"/><text x="34.7" y="14.7">H</text><text x="34.7" y="34.3">N</text><text x="17.3" y="43.7">H</text><text x="51.7" y="43.7">H</text><text class="l" x="13.3" y="62.7">C00014</text></g>
<g id="C00262" class="m" transform="translate(2089,1520)" font-size="14"><rect class="c" width="113" height="104"/><path class="b" d="M38.5,14.7V34M41.5,14.7V34M40,34.7L18,43L24,61.3L39.7,70.7L55.7,61.3H92.3V60.7M40,34.7L55.7,44L70.7,34L88,44V60.7M52.3,50V58M72,38L85,44M27,62L38,66"/><text x="40" y="14.7">O</text><text x="18" y="43">HN</text><text x="39.7" y="70.7">N</text><text x="70.7" y="34">N</text><text x="92.3" y="60.7">NH</text><text class="l" x="8.3" y="89.7">C00262</text></g>
<g id="R06590"><rect class="r" x="1551" y="1755" width="81" height="48"/><text class="rt" x="1591.5" y="1779">R06590</text></g>
<g id="R01244"><rect class="r" x="1995" y="1755" width="81" height="48"/><text class="rt" x="2035.5" y="1779">R01244</text></g>
<g id="C12214" class="m" transform="translate(1500,1861)" font-size="12"><rect class="c" width="178" height="96"/><use href="#b-f6p"/><text x="16.3" y="34">HO</text><text x="39.7" y="34">P</text><text x="39.7" y="14.3">O</text><text x="44" y="54">OH</text><text x="59.7" y="34">O</text><text x="105.7" y="13">O</text><text x="81.3" y="59.7">HO</text><text x="134" y="60.3">NH<tspan class="s" dy="3">2</tspan></text><text x="144.7" y="31">OH</text><text x="159.7" y="15">OH</text><text class="l" x="8.3" y="81.7">C12214</text></g>
<g id="C00117" class="m" transform="translate(1702,1861)" font-size="12.5"><rect class="c" width="170" height="96"/><path class="b" d="M17.8,36H63.7L77,20.3M42.1,14.7V35M45.1,14.7V35M43.6,36V57M94,27L109.7,14.7L131.4,28L120,46.3H101ZM131.4,28l3,-2 1,2 3,-3 1,2 3,-3 3,-3"/><polygon class="w" points="77,20 94,24 93,30"/><path class="h" d="M101,46.3L90,58M120,46.3L130,57"/><text x="17.8" y="36">HO</text><text x="43.6" y="36">P</text><text x="43.6" y="14.7">O</text><text x="48.2" y="57">OH</text><text x="63.7" y="36">O</text><text x="109.7" y="14.7">O</text><text x="82" y="61.3">HO</text><text x="136.7" y="61">OH</text><text x="151" y="20">OH</text><text class="l" x="8" y="82">C00117</text></g>
<g id="C00001-6" class="m" transform="translate(1896,1877)" font-size="14"><rect class="c" width="73" height="64"/><use href="#b-h2o"/><text x="14.3" y="16.3">H</text><text x="34.7" y="29">O</text><text x="55.7" y="15.7">H</text><text class="l" x="10.7" y="49.7">C00001</text></g>
<g id="C00147" class="m" transform="translate(1993,1852)" font-size="13"><rect class="c" width="90.5" height="115"/><path class="b" d="M65.4,22L55,34.3L74,45V64L57,75L38.8,64V45L55,34.3M38.8,45L20.8,39.3L9.8,54.3L20.8,69.3L38.8,64M42,48V61M55,38L71,47M71,62L58,70M20,44L12,54M20.8,69.3V82"/><text x="65.4" y="16.7">NH<tspan class="s" dy="3">2</tspan></text><text x="74" y="45">N</text><text x="57" y="75">N</text><text x="20.8" y="39.3">N</text><text x="20.8" y="69.3">N</text><text x="20.8" y="82.7">H</text><text class="l" x="8" y="100.7">C00147</text></g>
<g id="C00119" class="m" transform="translate(2107.5,1853)" font-size="13"><rect class="c" width="249.5" height="112"/><path class="b" d="M18.4,53.3H63.7L77,36.7M42.1,32.7V52M45.1,32.7V52M43.6,53.3V73M95.9,44L110.8,31L126.9,44L120,62.7H101.6ZM147,36.7H230.8M166,36.7L160,16M164.5,36.7V56.7M167.5,36.7V56.7M206,36.7L200.4,16M204.5,36.7V56.7M207.5,36.7V56.7"/><polygon class="w" points="77,36.7 96,41 95,47"/><path class="h" d="M126.9,44L147,36.7M101.6,62.7L91,75M120,62.7L131,74"/><text x="18.4" y="53.3">HO</text><text x="43.6" y="53.3">P</text><text x="43.6" y="32.7">O</text><text x="48.2" y="73.3">OH</text><text x="63.7" y="53.3">O</text><text x="110.8" y="31">O</text><text x="84" y="77.3">HO</text><text x="138.6" y="77.3">OH</text><text x="147" y="36.7">O</text><text x="166" y="36.7">P</text><text x="160" y="16">HO</text><text x="166" y="56.7">O</text><text x="186" y="36.7">O</text><text x="206" y="36.7">P</text><text x="200.4" y="16">HO</text><text x="206" y="56.7">O</text><text x="230.8" y="36.7">OH</text><text class="l" x="8" y="97.7">C00119</text></g>
<g id="R00182"><rect class="r" x="1935.5" y="2016" width="80" height="48"/><text class="rt" x="1975.5" y="2040">R00182</text></g>
<g id="R00190"><rect class="r" x="2095.5" y="2016" width="80" height="48"/><text class="rt" x="2135.5" y="2040">R00190</text></g>
<g id="C00001-7" class="m" transform="translate(1883,2136)" font-size="14"><rect class="c" width="73" height="65"/><use href="#b-h2o"/><text x="14.3" y="16.3">H</text><text x="34.7" y="29">O</text><text x="55.7" y="15.7">H</text><text class="l" x="10.7" y="49.7">C00001</text></g>
<g id="C00020" class="m" transform="translate(1980,2112)" font-size="14"><rect class="c" width="245" height="112"/><path class="b" d="M16,47H61.3L76,33M39.8,27V39M42.8,27V39M41.3,47V66M95,39.7L111.3,28L127,39.7L121,58H101.6ZM145,34.7L152.6,15.3H172.3L177.6,31L160,48L145,34.7M155.3,18.5H168.3M175.3,33L162.3,45.5M177.6,31L196,41.3L220.3,28.7M196,41.3L198.6,60.3L182,73.7L162,64.7L160,48M193.6,44L195.6,57M178.3,70L165.3,64"/><polygon class="w" points="76,33 95.3,37 94.3,42.5"/><polygon class="w" points="127,39.7 144.3,31 145.3,37"/><path class="h" d="M101.6,58L91.3,74M121,58L134.3,72"/><text x="16" y="47">HO</text><text x="41.3" y="47">P</text><text x="41.3" y="27">O</text><text x="36" y="66.7">HO</text><text x="61.3" y="47">O</text><text x="111.3" y="28">O</text><text x="90" y="76.3">HO</text><text x="137.6" y="74.7">OH</text><text x="145" y="34.7">N</text><text x="172.6" y="14.3">N</text><text x="220.3" y="28.7">NH<tspan class="s" dy="3">2</tspan></text><text x="198.6" y="60.3">N</text><text x="162" y="64.7">N</text><text class="l" x="10" y="97">C00020</text></g>
<g id="C00013" class="m" transform="translate(2344,2123)" font-size="14"><rect class="c" width="123" height="90"/><path class="b" d="M20.2,37.7H102M40.9,15V37M43.9,15V37M78,15V37M81,15V37M42.4,37.7L47,56M79.5,37.7L84,56"/><text x="42.4" y="15">O</text><text x="42.4" y="37.7">P</text><text x="20.2" y="37.7">HO</text><text x="47.6" y="56.7">OH</text><text x="60.6" y="37.7">O</text><text x="79.5" y="37.7">P</text><text x="79.5" y="15">O</text><text x="102" y="37.7">OH</text><text x="84.8" y="56.7">OH</text><text class="l" x="9.3" y="76.7">C00013</text></g>
<g id="blank-1"><rect class="c" x="2248.5" y="2144" width="72" height="48"/></g>
<g id="R03876"><rect class="r" x="2244.5" y="2272" width="80" height="48"/><text class="rt" x="2284.5" y="2296">R03876</text></g>
<g id="blank-2"><rect class="c" x="2097" y="2409" width="72" height="48"/></g>
<g id="C02188" class="m" transform="translate(2192,2369)" font-size="14"><rect class="c" width="184.5" height="128"/><path class="b" d="M49,15V34L70,44.7M48,32L30,42.5M50,36L32,46.5M49,72.3L64.2,64L80.7,73L98.8,64L117,73L133,64L157.5,74M49,72.3L30.7,65L13.7,74M47.5,72.3V93M50.5,72.3V93"/><polygon class="w" points="64.2,64 61.5,50 67,50"/><text x="49" y="15">R</text><text x="30.7" y="44.7">O</text><text x="70" y="44.7">NH</text><text x="49" y="93.3">O</text><text x="30.7" y="65">N</text><text x="30.7" y="75.7">H</text><text x="13.7" y="74">R</text><text x="157.5" y="74">NH<tspan class="s" dy="3">2</tspan></text><text class="l" x="9.3" y="114">C02188</text></g>
<g id="C00002-3" class="m" transform="translate(2400,2377)" font-size="14"><rect class="c" width="328.5" height="112"/><use href="#b-atp"/><text x="19.7" y="48">HO</text><text x="44.7" y="48">P</text><text x="44.7" y="28">O</text><text x="39.7" y="67.7">HO</text><text x="65" y="48">O</text><text x="85" y="48">P</text><text x="85" y="28">O</text><text x="79.7" y="67.7">HO</text><text x="105" y="48">O</text><text x="125" y="48">P</text><text x="125" y="28">O</text><text x="119.7" y="67.7">HO</text><text x="145" y="48">O</text><text x="195" y="29">O</text><text x="173.7" y="77.3">HO</text><text x="221.3" y="75.7">OH</text><text x="228.7" y="35.7">N</text><text x="256.3" y="15.3">N</text><text x="304" y="29.7">NH<tspan class="s" dy="3">2</tspan></text><text x="282.3" y="61.3">N</text><text x="245.7" y="65.7">N</text><text class="l" x="9.3" y="97.7">C00002</text></g>
<g id="connectors" class="e">
<path d="M636.5,216V264"/>
<path d="M883,165C845,205 790,225 745,247C720,259 697,267 677,276"/>
<path d="M986,166C1000,195 1015,200 1032,217C1055,240 1080,255 1108,269"/>
<path d="M597,300C560,315 510,328 477,340C455,349 437,354 417,365"/>
<path d="M625,312C615,370 590,430 582,470"/>
<path d="M645.5,312C650,340 665,385 680,430"/>
<path d="M477.5,527L486,677"/>
<path d="M671,559C655,600 620,650 528.5,687"/>
<path d="M488,725V773"/>
<path d="M1000,552L1095,677"/>
<path d="M1191.5,544C1175,590 1145,640 1125.5,677"/>
<path d="M1157,312C1165,350 1185,395 1200.5,447"/>
<path d="M1073,719C1040,735 950,770 901.5,802"/>
<path d="M1121,725L1148.5,809"/>
<path d="M1032.5,900L1076,988"/>
<path d="M1141,903L1102,988"/>
<path d="M1048,1017C900,1025 770,1030 720,1062C670,1092 650,1110 637,1156"/>
<path d="M1088,1036V1139"/>
<path d="M1128,1017C1200,1028 1270,1035 1315,1060C1345,1075 1375,1085 1392,1112"/>
<path d="M1276,1235L1303,1344"/>
<path d="M1384,1264C1372,1285 1350,1310 1327,1344"/>
<path d="M317,1035C305,1060 280,1095 257,1135"/>
<path d="M353,1035C375,1060 400,1090 423,1123"/>
<path d="M287,912L322,987"/>
<path d="M447,926C425,950 400,970 373,988"/>
<path d="M480,1253L485,1344"/>
<path d="M688,1287C650,1310 590,1335 528,1357"/>
<path d="M450,1392C405,1440 375,1480 360,1548"/>
<path d="M483,1392C478,1430 465,1490 459,1544"/>
<path d="M516,1392L567,1437"/>
<path d="M528,1371C650,1380 820,1390 890,1420C945,1445 985,1470 1013,1524"/>
<path d="M1301,1392L1259,1505"/>
<path d="M1322,1392L1345,1467"/>
<path d="M1430,1678C1445,1710 1490,1735 1551,1766"/>
<path d="M1598,1647L1593,1755"/>
<path d="M1591,1803L1589,1861"/>
<path d="M1629,1804L1714,1861"/>
<path d="M1623,921V988"/>
<path d="M1548,725.5L1520.5,824"/>
<path d="M1565.5,725.5L1593,790"/>
<path d="M1461,535C1470,580 1490,630 1533,677"/>
<path d="M1555,551V677"/>
<path d="M1652,524C1640,570 1620,625 1578,677"/>
<path d="M1618,1036L1604,1156"/>
<path d="M1665,1030C1700,1045 1735,1065 1755,1092C1765,1105 1775,1118 1785,1131"/>
<path d="M1708,1212C1720,1260 1745,1295 1790,1342"/>
<path d="M1817.5,1245.5V1342"/>
<path d="M1940,1273.5L1850,1342"/>
<path d="M1777.5,1372C1700,1385 1600,1395 1560,1425C1525,1450 1512,1490 1504,1540"/>
<path d="M1817.5,1390V1486"/>
<path d="M1857.5,1372C1930,1385 2030,1400 2071,1432C2100,1455 2120,1490 2132,1520"/>
<path d="M2031,1611L2035,1755"/>
<path d="M2121,1624C2100,1670 2075,1715 2049,1755"/>
<path d="M2016,1803C1995,1835 1975,1855 1957,1877"/>
<path d="M2035.5,1803L2036,1852"/>
<path d="M1857,1958L1939.5,2016"/>
<path d="M2009.5,1967C2005,1985 1995,2000 1987.5,2016"/>
<path d="M2081,1967L2115.5,2016"/>
<path d="M2190,1966L2155,2016"/>
<path d="M1963.5,2064L1935,2136"/>
<path d="M2000,2065L2045.5,2112"/>
<path d="M2128,2065L2117,2112"/>
<path d="M2175,2052C2215,2070 2265,2090 2305,2097L2348,2122"/>
<path d="M2183,2225L2249,2272"/>
<path d="M2284.5,2192V2272"/>
<path d="M2361.5,2215L2307,2272"/>
<path d="M2244.5,2320C2205,2345 2170,2370 2148.5,2409"/>
<path d="M2284.5,2320V2369"/>
<path d="M2324.5,2317L2449,2377"/>
</g>
</svg>
